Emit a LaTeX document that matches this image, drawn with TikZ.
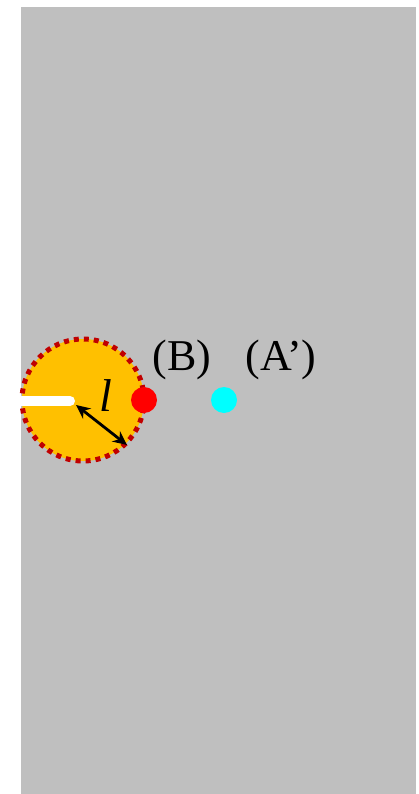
\documentclass[tikz,border=0pt]{standalone}
\usepackage{fontspec}
\setmainfont{Liberation Serif}
\usetikzlibrary{arrows.meta}
\definecolor{bggray}{RGB}{191,191,191}
\definecolor{disk}{RGB}{255,192,0}
\definecolor{rim}{RGB}{192,0,0}
\definecolor{dotred}{RGB}{255,0,0}
\definecolor{dotcyan}{RGB}{0,255,255}
\begin{document}
\begin{tikzpicture}[x=1pt,y=-1pt,
  dotnode/.style={circle,inner sep=0pt,minimum size=26pt},
  lbl/.style={font=\fontsize{44}{48}\selectfont,inner sep=0pt},
  dimarrow/.style={{Stealth[length=14pt,width=13pt]}-{Stealth[length=14pt,width=13pt]},line width=2.8pt}]
\useasboundingbox (0,0) rectangle (419,794);
\fill[white] (0,0) rectangle (419,794);
\fill[bggray] (21,7) rectangle (416,794);
\node[circle,fill=disk,draw=rim,line width=5pt,dash pattern=on 5pt off 5pt,minimum size=122pt,inner sep=0pt] (D) at (83,400) {};
\coordinate (cs) at (18,401);
\coordinate (ce) at (70,401);
\draw[white,line width=10pt] (cs) -- (ce);
\fill[white] (ce) circle (5pt);
\node[dotnode,fill=dotred] (B) at (144,400) {};
\node[dotnode,fill=dotcyan] (A) at (224,400) {};
\node[lbl] (Bl) at (182,360) {(B)};
\node[lbl] (Al) at (281,360) {(A’)};
\node[font=\fontsize{46}{50}\selectfont\itshape,inner sep=0pt] (L) at (106,396) {$\mathit{l}$};
\coordinate (a1) at (76,405);
\coordinate (a2) at (127,445);
\draw[dimarrow] (a1) -- (a2);
\end{tikzpicture}
\end{document}
